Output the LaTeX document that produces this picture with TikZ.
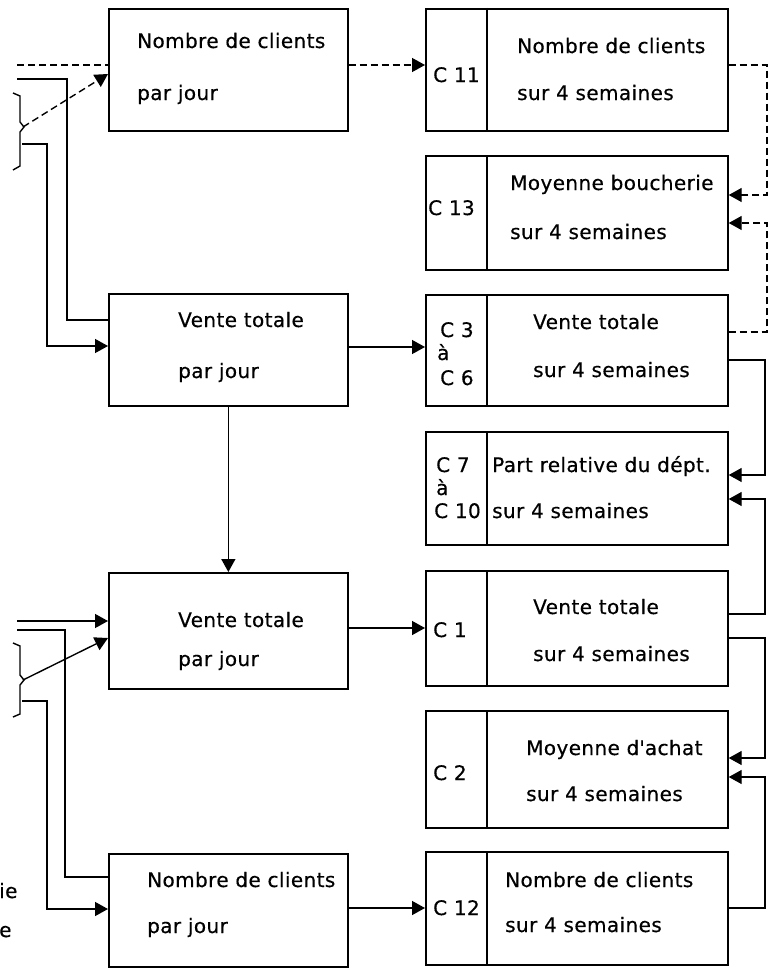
\documentclass[tikz,border=0pt]{standalone}
\usepackage{fontspec}
\setmainfont{DejaVu Sans}[LetterSpace=2,FakeBold=0.5]
\usetikzlibrary{arrows.meta}
\begin{document}
\begin{tikzpicture}[x=1pt,y=-1pt,
  box/.style={draw, line width=1.7pt, rectangle, inner sep=0pt, anchor=north west},
  lbox/.style={box, minimum width=239pt},
  rbox/.style={box, minimum width=302pt},
  txt/.style={anchor=base west, inner sep=0pt, font=\fontsize{20}{24}\selectfont},
  ln/.style={line width=1.4pt},
  arr/.style={ln, -{Triangle[length=13pt,width=14pt]}},
  dsh/.style={dash pattern=on 7pt off 4pt}]
\useasboundingbox (0,0) rectangle (776,974);

% left boxes
\node[lbox, minimum height=122pt] (b1) at (108,8) {};
\node[lbox, minimum height=112pt] (b2) at (108,293) {};
\node[lbox, minimum height=116pt] (b3) at (108,572) {};
\node[lbox, minimum height=113pt] (b4) at (108,853) {};
% right boxes
\node[rbox, minimum height=122pt] (r1) at (425,8) {};
\node[rbox, minimum height=114pt] (r2) at (425,155) {};
\node[rbox, minimum height=111pt] (r3) at (425,294) {};
\node[rbox, minimum height=113pt] (r4) at (425,431) {};
\node[rbox, minimum height=115pt] (r5) at (425,570) {};
\node[rbox, minimum height=117pt] (r6) at (425,710) {};
\node[rbox, minimum height=113pt] (r7) at (425,851) {};
\foreach \r in {r1,r2,r3,r4,r5,r6,r7}
  \draw[line width=1.7pt] ([xshift=62pt]\r.north west) -- ([xshift=62pt]\r.south west);

% texts left
\node[txt] (b1a) at (137,48) {Nombre de clients};
\node[txt] (b1b) at (137,100) {par jour};
\node[txt] (b2a) at (178,327) {Vente totale};
\node[txt] (b2b) at (178,378) {par jour};
\node[txt] (b3a) at (178,627) {Vente totale};
\node[txt] (b3b) at (178,666) {par jour};
\node[txt] (b4a) at (147,887) {Nombre de clients};
\node[txt] (b4b) at (147,933) {par jour};
\node[txt] (cut1) at (-1,898) {ie};
\node[txt] (cut2) at (-1,937) {e};

% texts right
\node[txt] (r1c) at (433,82) {C 11};
\node[txt] (r1a) at (517,53) {Nombre de clients};
\node[txt] (r1b) at (517,100) {sur 4 semaines};
\node[txt] (r2c) at (428,215) {C 13};
\node[txt] (r2a) at (510,190) {Moyenne boucherie};
\node[txt] (r2b) at (510,239) {sur 4 semaines};
\node[txt] (r3c) at (440,337) {C 3};
\node[txt] (r3d) at (437,360) {à};
\node[txt] (r3e) at (440,385) {C 6};
\node[txt] (r3a) at (533,329) {Vente totale};
\node[txt] (r3b) at (533,377) {sur 4 semaines};
\node[txt] (r4c) at (436,472) {C 7};
\node[txt] (r4d) at (436,495) {à};
\node[txt] (r4e) at (434,518) {C 10};
\node[txt] (r4a) at (492,472) {Part relative du dépt.};
\node[txt] (r4b) at (492,518) {sur 4 semaines};
\node[txt] (r5c) at (433,637) {C 1};
\node[txt] (r5a) at (533,614) {Vente totale};
\node[txt] (r5b) at (533,661) {sur 4 semaines};
\node[txt] (r6c) at (433,780) {C 2};
\node[txt] (r6a) at (526,755) {Moyenne d\textquotesingle achat};
\node[txt] (r6b) at (526,801) {sur 4 semaines};
\node[txt] (r7c) at (433,915) {C 12};
\node[txt] (r7a) at (505,887) {Nombre de clients};
\node[txt] (r7b) at (505,932) {sur 4 semaines};

% top-left inputs
\coordinate (t1) at (17,65);
\coordinate (t2) at (17,79);
\coordinate (k1) at (23,127);
\coordinate (k1b) at (22,144);
\draw[ln,dsh] (t1) -- ([yshift=-57pt]b1.north west);
\draw[ln] (t2) -- (67,79) |- ([yshift=-27pt]b2.north west);
\draw[ln] (13,93) -- (20,96) -- (20,122) -- (24,127) -- (20,132) -- (20,166) -- (13,170);
\draw[arr,dsh] (k1) -- ([yshift=-66pt]b1.north west);
\draw[arr] (k1b) -- (47,144) |- ([yshift=-53pt]b2.north west);

% bottom-left inputs
\coordinate (t3) at (17,621);
\coordinate (t4) at (17,630);
\coordinate (k2) at (23,680);
\coordinate (k2b) at (22,701);
\draw[arr] (t3) -- ([yshift=-49pt]b3.north west);
\draw[ln] (t4) -- (65,630) |- ([yshift=-24pt]b4.north west);
\draw[ln] (13,643) -- (20,646) -- (20,675) -- (24,680) -- (20,685) -- (20,714) -- (13,717);
\draw[arr] (k2) -- ([yshift=-66pt]b3.north west);
\draw[arr] (k2b) -- (47,701) |- ([yshift=-56pt]b4.north west);

% middle
\draw[arr,dsh] ([yshift=-57pt]b1.north east) -- ([yshift=-57pt]r1.north west);
\draw[arr] ([yshift=-54pt]b2.north east) -- ([yshift=-53pt]r3.north west);
\draw[arr] (b2.south) -- (b3.north);
\draw[arr] ([yshift=-56pt]b3.north east) -- ([yshift=-58pt]r5.north west);
\draw[arr] ([yshift=-55pt]b4.north east) -- ([yshift=-57pt]r7.north west);

% right feedback
\draw[arr,dsh] ([yshift=-57pt]r1.north east) -- (767,65) |- ([yshift=-40pt]r2.north east);
\draw[arr,dsh] ([yshift=-38pt]r3.north east) -- (767,332) |- ([yshift=-68pt]r2.north east);
\draw[arr] ([yshift=-66pt]r3.north east) -- (765,360) |- ([yshift=-44pt]r4.north east);
\draw[arr] ([yshift=-44pt]r5.north east) -- (765,614) |- ([yshift=-68pt]r4.north east);
\draw[arr] ([yshift=-68pt]r5.north east) -- (765,638) |- ([yshift=-48pt]r6.north east);
\draw[arr] ([yshift=-57pt]r7.north east) -- (765,908) |- ([yshift=-67pt]r6.north east);
\end{tikzpicture}
\end{document}
